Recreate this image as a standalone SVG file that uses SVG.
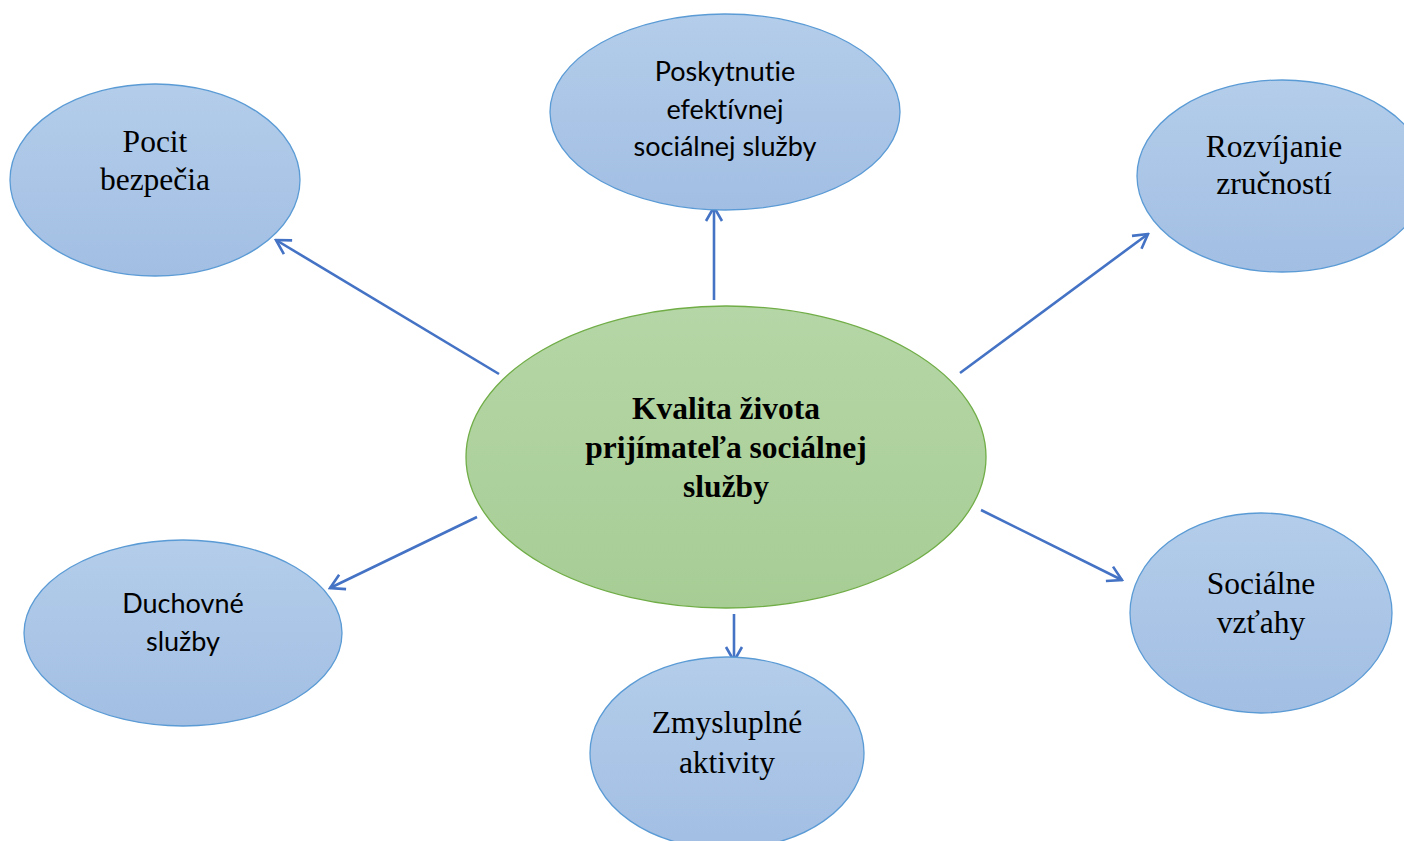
<svg xmlns="http://www.w3.org/2000/svg" width="1404" height="841" viewBox="0 0 1404 841">
<defs>
<linearGradient id="gb" x1="0" y1="0" x2="0" y2="1"><stop offset="0" stop-color="#B3CDEA"/><stop offset="1" stop-color="#A2BEE3"/></linearGradient>
<linearGradient id="gg" x1="0" y1="0" x2="0" y2="1"><stop offset="0" stop-color="#B5D6A6"/><stop offset="1" stop-color="#A7CD95"/></linearGradient>
<marker id="ah" viewBox="0 0 20 20" refX="18" refY="10" markerWidth="20" markerHeight="20" markerUnits="userSpaceOnUse" orient="auto"><path d="M4,2 L18,10 L4,18" fill="none" stroke="#4472C4" stroke-width="2.6"/></marker>
<style>
.b{fill:url(#gb);stroke:#5B9BD5;stroke-width:1.3}
.g{fill:url(#gg);stroke:#70AD47;stroke-width:1.3}
.s{font-family:"Liberation Serif","Times New Roman",serif;font-size:31.5px;fill:#000;text-anchor:middle}
.c{font-family:Lato,"Open Sans",sans-serif;font-size:27px;fill:#000;text-anchor:middle;font-variant-ligatures:none}
.k{font-family:"Liberation Serif","Times New Roman",serif;font-size:31.5px;font-weight:bold;fill:#000;text-anchor:middle}
.e{stroke:#4472C4;stroke-width:2.6;fill:none;marker-end:url(#ah)}
</style>
</defs>
<rect width="1404" height="841" fill="#fff"/>
<g id="connectors">
<line class="e" x1="499" y1="374" x2="276" y2="240"/>
<line class="e" x1="714" y1="300" x2="714" y2="207"/>
<line class="e" x1="960" y1="373" x2="1148" y2="234"/>
<line class="e" x1="477" y1="517" x2="330" y2="588"/>
<line class="e" x1="734" y1="614" x2="734" y2="661"/>
<line class="e" x1="981" y1="510" x2="1122" y2="580"/>
</g>
<g id="n-pocit"><ellipse class="b" cx="155" cy="180" rx="145" ry="96"/><text class="s" x="155" y="152">Pocit</text><text class="s" x="155" y="190">bezpečia</text></g>
<g id="n-poskytnutie"><ellipse class="b" cx="725" cy="112" rx="175" ry="98"/><text class="c" x="725" y="81">Poskytnutie</text><text class="c" x="725" y="119">efektívnej</text><text class="c" x="725" y="156">sociálnej služby</text></g>
<g id="n-rozvijanie"><ellipse class="b" cx="1282" cy="176" rx="145" ry="96"/><text class="s" x="1274" y="157">Rozvíjanie</text><text class="s" x="1274" y="194">zručností</text></g>
<g id="n-center"><ellipse class="g" cx="726" cy="457" rx="260" ry="151"/><text class="k" x="726" y="419">Kvalita života</text><text class="k" x="726" y="458">prijímateľa sociálnej</text><text class="k" x="726" y="497">služby</text></g>
<g id="n-duchovne"><ellipse class="b" cx="183" cy="633" rx="159" ry="93"/><text class="c" x="183" y="613">Duchovné</text><text class="c" x="183" y="651">služby</text></g>
<g id="n-zmysluplne"><ellipse class="b" cx="727" cy="753" rx="137" ry="96"/><text class="s" x="727" y="733">Zmysluplné</text><text class="s" x="727" y="773">aktivity</text></g>
<g id="n-socialne"><ellipse class="b" cx="1261" cy="613" rx="131" ry="100"/><text class="s" x="1261" y="594">Sociálne</text><text class="s" x="1261" y="633">vzťahy</text></g>
</svg>
